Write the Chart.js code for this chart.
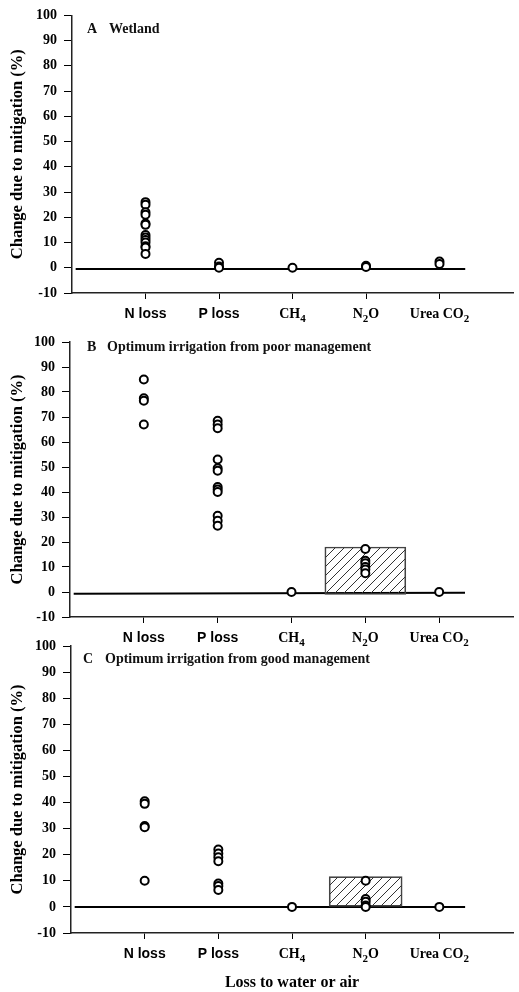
<!DOCTYPE html>
<html>
<head>
<meta charset="utf-8">
<script src="https://cdn.jsdelivr.net/npm/chart.js@4.4.1/dist/chart.umd.min.js"></script>
<style>
  html, body { margin: 0; padding: 0; background: #fff; }
  body { position: relative; width: 519px; height: 992px; overflow: hidden; }
  canvas { position: absolute; left: 0; }
</style>
</head>
<body>
<canvas id="panelA" width="519" height="325" style="top:0px"></canvas>
<canvas id="panelB" width="519" height="325" style="top:325px"></canvas>
<canvas id="panelC" width="519" height="362" style="top:630px"></canvas>
<script>
/* =======================
   DATA
======================= */
const categories = ["N loss", "P loss", "CH₄", "N₂O", "Urea CO₂"];

// one list of values per category, in the order above
const wetlandValues = [
  [26, 25, 22, 21, 17.5, 17, 13, 12, 11, 10, 8.5, 8, 5.5],
  [2, 0.5, 0],
  [0],
  [0.8, 0.3],
  [2.5, 1.5]
];
const poorIrrigationValues = [
  [85, 77.5, 76.5, 67],
  [68.5, 67, 65.5, 53, 49.5, 48.5, 42, 41, 40, 30.5, 28.5, 26.5],
  [0],
  [17.2, 12.5, 11.5, 10, 9, 7.5],
  [0]
];
const goodIrrigationValues = [
  [40.5, 39.5, 31, 30.5, 10],
  [22, 20.5, 19, 17.5, 9, 8, 6.5],
  [0],
  [10, 3, 2, 0.5, 0],
  [0]
];

// hatched N2O range bars (low, high)
const poorN2OBar = [-1, 18];
const goodN2OBar = [0, 11.6];

// reference line near zero
const zeroLineX = [0.05, 5.35];
const wetlandZeroY = [-0.5, -0.5];
const poorZeroY = [-0.7, -0.3];
const goodZeroY = [0, 0];

/* =======================
   HELPERS
======================= */
const SERIF = "'Liberation Serif', 'Times New Roman', serif";
const SANS = "'Liberation Sans', Arial, sans-serif";
const SUBS = { "₀": "0", "₁": "1", "₂": "2", "₃": "3", "₄": "4" };

function toPoints(values) {
  const pts = [];
  values.forEach((group, i) => group.forEach(v => pts.push({ x: i + 1, y: v })));
  return pts;
}

function hatchPattern() {
  const c = document.createElement("canvas");
  c.width = 9;
  c.height = 9;
  const g = c.getContext("2d");
  g.strokeStyle = "#333";
  g.lineWidth = 1;
  g.beginPath();
  g.moveTo(0, 9); g.lineTo(9, 0);
  g.moveTo(-3, 3); g.lineTo(3, -3);
  g.moveTo(6, 12); g.lineTo(12, 6);
  g.stroke();
  return g.createPattern(c, "repeat");
}

// split "CH₄" into runs of normal / subscript text
function splitRuns(label) {
  const runs = [];
  for (const ch of label) {
    const sub = ch in SUBS;
    const last = runs[runs.length - 1];
    if (last && last.sub === sub) last.text += sub ? SUBS[ch] : ch;
    else runs.push({ sub: sub, text: sub ? SUBS[ch] : ch });
  }
  return runs;
}

// panel letter + caption inside the plot
const panelLabel = {
  id: "panelLabel",
  afterDraw(chart, args, opts) {
    const ctx = chart.ctx;
    const y = chart.chartArea.top + opts.dy;
    ctx.save();
    ctx.font = "bold 14px " + SERIF;
    ctx.fillStyle = "#111";
    ctx.textBaseline = "middle";
    ctx.fillText(opts.letter, opts.letterX, y);
    ctx.fillText(opts.text, opts.textX, y);
    ctx.restore();
  }
};

// category labels with real subscripts under the x ticks
const categoryLabels = {
  id: "categoryLabels",
  afterDraw(chart) {
    const ctx = chart.ctx;
    const scale = chart.scales.x;
    const baseY = scale.top + 25;
    ctx.save();
    ctx.fillStyle = "#000";
    ctx.textBaseline = "alphabetic";
    categories.forEach((label, i) => {
      const family = i < 2 ? SANS : SERIF;
      const runs = splitRuns(label);
      let total = 0;
      runs.forEach(r => {
        ctx.font = "bold " + (r.sub ? 11 : 14) + "px " + family;
        r.w = ctx.measureText(r.text).width;
        total += r.w;
      });
      let x = scale.getPixelForValue(i + 1) - total / 2;
      runs.forEach(r => {
        ctx.font = "bold " + (r.sub ? 11 : 14) + "px " + family;
        ctx.fillText(r.text, x, baseY + (r.sub ? 4 : 0));
        x += r.w;
      });
    });
    ctx.restore();
  }
};

/* =======================
   PANEL
======================= */
function makePanel(p) {
  const datasets = [
    {
      type: "scatter",
      data: toPoints(p.values),
      pointRadius: 4,
      pointBorderWidth: 2,
      pointBorderColor: "#000",
      pointBackgroundColor: "#fff",
      order: 0
    },
    {
      type: "line",
      data: zeroLineX.map((x, i) => ({ x: x, y: p.lineY[i] })),
      borderColor: "#000",
      borderWidth: 2,
      pointRadius: 0,
      order: 2
    }
  ];
  if (p.bar) {
    datasets.push({
      type: "bar",
      data: [{ x: 4, y: p.bar }],
      backgroundColor: hatchPattern(),
      borderColor: "#444",
      borderWidth: 1,
      borderSkipped: false,
      barThickness: p.barWidth,
      order: 1
    });
  }

  return new Chart(document.getElementById(p.id), {
    type: "scatter",
    data: { datasets: datasets },
    options: {
      responsive: false,
      animation: false,
      layout: { padding: { top: p.padTop, right: 0, bottom: 0, left: 0 } },
      plugins: {
        legend: { display: false },
        tooltip: { enabled: false },
        panelLabel: { letter: p.letter, text: p.title, letterX: p.letterX, textX: p.textX, dy: p.labelDy }
      },
      scales: {
        x: {
          type: "linear",
          min: 0,
          max: 6,
          offset: false,
          grid: { drawOnChartArea: false, tickLength: 6, color: "#000", offset: false },
          border: { color: "#222", width: 1.5 },
          afterBuildTicks: s => { s.ticks = categories.map((c, i) => ({ value: i + 1 })); },
          afterFit: s => { s.height = p.xHeight; },
          ticks: { display: false, autoSkip: false, maxRotation: 0 },
          title: {
            display: !!p.xTitle,
            text: p.xTitle || "",
            color: "#000",
            font: { family: SERIF, weight: "bold", size: 16 },
            padding: { top: 0, bottom: 0 }
          }
        },
        y: {
          min: -10,
          max: 100,
          grid: { drawOnChartArea: false, tickLength: 8, color: "#000" },
          border: { color: "#222", width: 1.5 },
          afterFit: s => { s.width = p.axisLeft; },
          ticks: {
            stepSize: 10,
            padding: 7,
            color: "#000",
            font: { family: SERIF, weight: "bold", size: 14 }
          },
          title: {
            display: true,
            text: "Change due to mitigation (%)",
            color: "#000",
            font: { family: SERIF, weight: "bold", size: 16.5 },
            padding: { top: 8, bottom: 0 }
          }
        }
      }
    },
    plugins: [panelLabel, categoryLabels]
  });
}

makePanel({
  id: "panelA", values: wetlandValues, lineY: wetlandZeroY,
  letter: "A", title: "Wetland", letterX: 87, textX: 109, labelDy: 14,
  axisLeft: 72, padTop: 13, xHeight: 32
});
makePanel({
  id: "panelB", values: poorIrrigationValues, lineY: poorZeroY,
  bar: poorN2OBar, barWidth: 81,
  letter: "B", title: "Optimum irrigation from poor management", letterX: 87, textX: 107, labelDy: 5,
  axisLeft: 70, padTop: 17, xHeight: 33
});
makePanel({
  id: "panelC", values: goodIrrigationValues, lineY: goodZeroY,
  bar: goodN2OBar, barWidth: 73,
  letter: "C", title: "Optimum irrigation from good management", letterX: 83, textX: 105, labelDy: 13,
  axisLeft: 71, padTop: 16, xHeight: 59, xTitle: "Loss to water or air"
});
</script>
</body>
</html>
